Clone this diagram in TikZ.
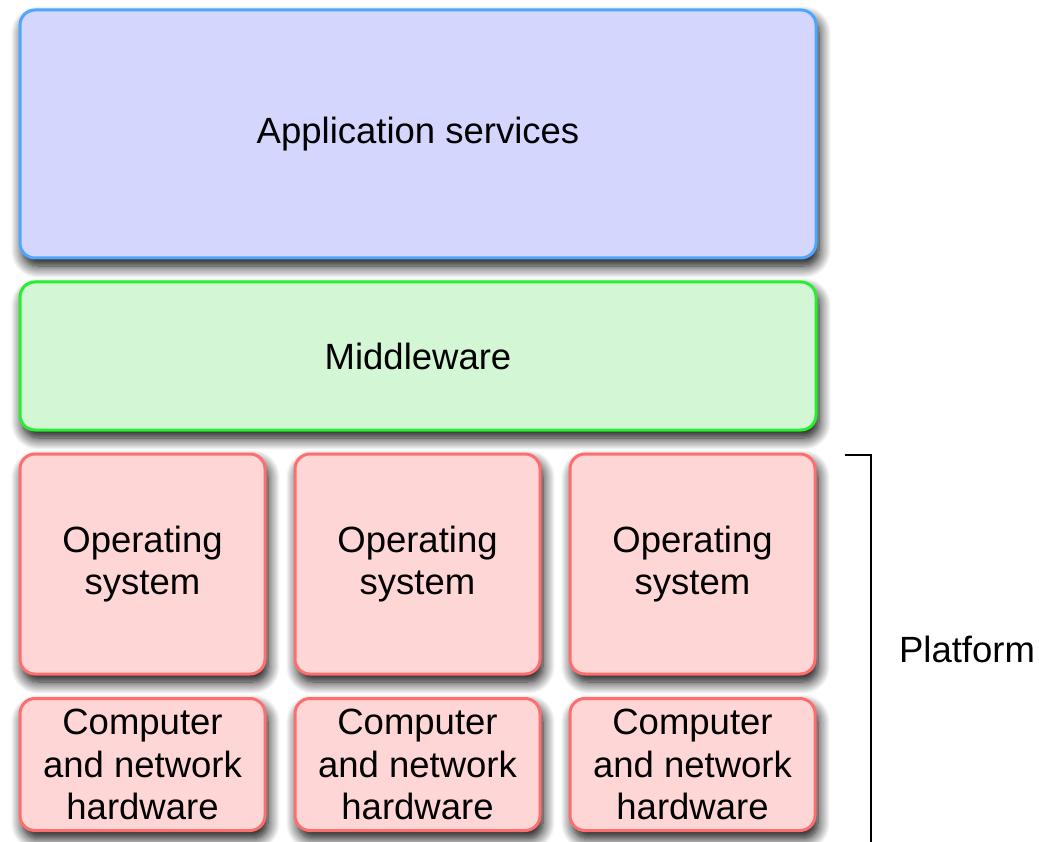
\documentclass[tikz,border=0pt]{standalone}
\usepackage{fontspec}
\setmainfont{Liberation Sans}
\usetikzlibrary{shadows.blur}
\definecolor{appfill}{RGB}{213,214,253}
\definecolor{appline}{RGB}{77,166,255}
\definecolor{midfill}{RGB}{211,246,213}
\definecolor{midline}{RGB}{40,238,50}
\definecolor{pfill}{RGB}{255,214,214}
\definecolor{pline}{RGB}{255,110,110}
\tikzset{
  layer/.style={draw, line width=3pt, rounded corners=15pt,
    blur shadow={shadow xshift=3pt, shadow yshift=-8pt, shadow blur radius=12pt, shadow blur steps=12, shadow blur extra rounding=8pt, shadow opacity=100},
    font=\fontsize{36.5}{42.5}\selectfont, align=center, inner sep=0pt},
  app/.style={layer, fill=appfill, draw=appline},
  mid/.style={layer, fill=midfill, draw=midline},
  plat/.style={layer, fill=pfill, draw=pline},
}
\begin{document}
\begin{tikzpicture}[x=1pt,y=-1pt]
\useasboundingbox (0,0) rectangle (1039,842);
\node[app, minimum width=796pt, minimum height=248pt] (app) at (418,134) {Application services};
\node[mid, minimum width=796pt, minimum height=148pt] (mid) at (418,356) {Middleware};
\foreach \i/\x in {1/142.5, 2/417.5, 3/692.5}{
  \node[plat, minimum width=245pt, minimum height=220pt] (os\i) at (\x,564) {Operating\\system};
  \node[plat, minimum width=245pt, minimum height=132pt] (hw\i) at (\x,764.5) {Computer\\and network\\hardware};
}
\coordinate (bt) at (845,455);
\coordinate (bc) at (871,455);
\coordinate (bb) at (871,842);
\draw[line width=2pt] (bt) -- (bc) -- (bb);
\node[font=\fontsize{36.5}{42}\selectfont, inner sep=0pt] (plat) at (967,649) {Platform};
\end{tikzpicture}
\end{document}
